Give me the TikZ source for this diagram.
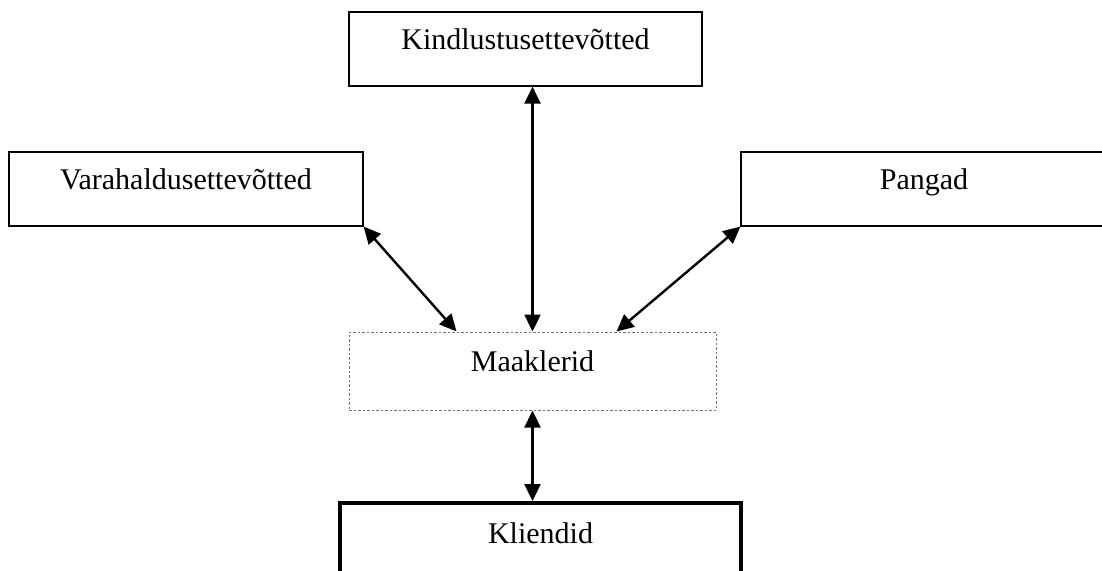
\documentclass[tikz,border=0pt]{standalone}
\usepackage{fontspec}
\setmainfont{Liberation Serif}
\usetikzlibrary{arrows.meta}
\begin{document}
\begin{tikzpicture}[x=1pt,y=-1pt,
  box/.style={draw=black,line width=1.2pt,rectangle,inner sep=0pt,
    font=\fontsize{30}{36}\selectfont,text height=22pt,text depth=22pt,
    minimum height=74pt},
  dotbox/.style={box,draw=black!55,line width=1pt,dash pattern=on 2.5pt off 2pt},
  thickbox/.style={box,line width=4pt},
  link/.style={line width=2.4pt,{Triangle[length=17pt,width=16pt]}-{Triangle[length=17pt,width=16pt]}}]
  \useasboundingbox (0,0) rectangle (1102,570);
  \clip (0,0) rectangle (1102,570);

  % institutions
  \node[box,minimum width=353pt] (kind) at (525.5,49) {Kindlustusettevõtted};
  \node[box,minimum width=354pt] (vara) at (186,189) {Varahaldusettevõtted};
  \node[box,minimum width=366pt] (pang) at (924,189) {Pangad};
  \node[dotbox,minimum width=367pt,minimum height=78pt] (maak) at (532.5,371) {Maaklerid};
  \node[thickbox,minimum width=401pt,minimum height=80pt] (klie) at (540.5,543) {Kliendid};

  % links to the brokers
  \draw[link] (kind.south -| maak.north) -- (maak.north);
  \draw[link] (vara.south east) -- ([xshift=108pt]maak.north west);
  \draw[link] (pang.south west) -- ([xshift=-100pt]maak.north east);
  \draw[link] (maak.south) -- (klie.north -| maak.south);
\end{tikzpicture}
\end{document}
